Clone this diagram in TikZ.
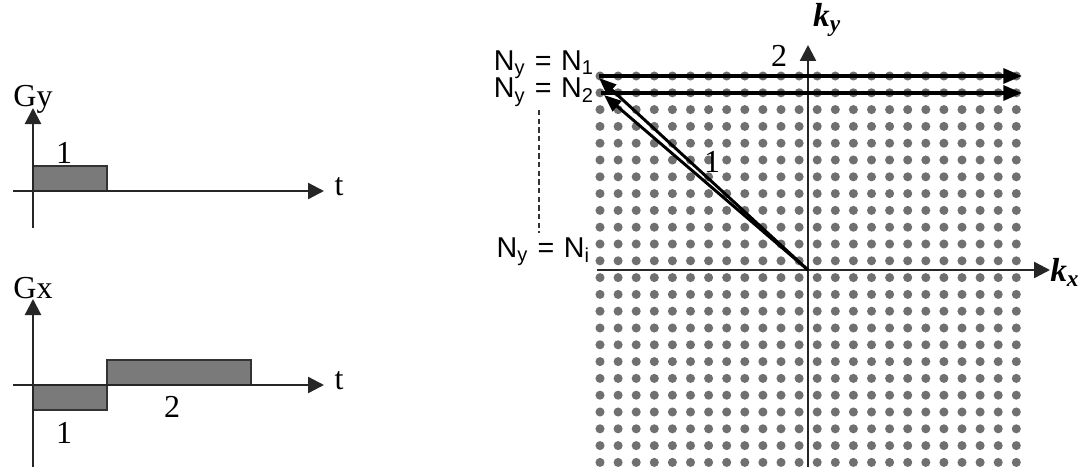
\documentclass[tikz,border=0pt]{standalone}
\usepackage{fontspec}
\setmainfont{Liberation Serif}
\newfontfamily\arialfont{Liberation Sans}
\usetikzlibrary{arrows.meta}
\definecolor{dotgray}{RGB}{112,112,112}
\definecolor{pulsegray}{RGB}{122,122,122}
\begin{document}
\begin{tikzpicture}[x=0.75pt,y=-0.75pt,
  axis/.style={line width=1.8pt, draw=black!85, -{Triangle[length=12pt,width=12pt]}},
  traj/.style={line width=3pt, -{Triangle[length=14pt,width=11pt]}},
  diag/.style={line width=2.2pt, -{Triangle[length=13pt,width=10pt]}},
  pulse/.style={fill=pulsegray, draw=black!80, line width=1.2pt},
  serlab/.style={font=\fontsize{24}{26}\selectfont, inner sep=0pt},
  klab/.style={font=\fontsize{25}{27}\selectfont\bfseries\itshape, inner sep=0pt},
  nlab/.style={font=\arialfont\fontsize{21.5}{24}\selectfont, inner sep=0pt}]
\useasboundingbox (0,0) rectangle (1082,467);

% ---------- Gy plot ----------
\coordinate (gyb) at (33,228);
\coordinate (gyt) at (33,108);
\coordinate (gyl) at (13,191);
\coordinate (gyr) at (324,191);
\draw[pulse] (33,166) rectangle (107,191);
\draw[axis] (gyb) -- (gyt);
\draw[axis] (gyl) -- (gyr);
\node[serlab] (gylab) at (33,99) {Gy};
\node[serlab] (gyt1) at (339,187) {t};
\node[serlab] (gy1) at (64,153) {1};

% ---------- Gx plot ----------
\coordinate (gxb) at (33,467);
\coordinate (gxt) at (33,299);
\coordinate (gxl) at (13,385);
\coordinate (gxr) at (324,385);
\draw[pulse] (33,385) rectangle (107,410);
\draw[pulse] (107,360) rectangle (251,385);
\draw[axis] (gxb) -- (gxt);
\draw[axis] (gxl) -- (gxr);
\node[serlab] (gxlab) at (33,288) {Gx};
\node[serlab] (gxt1) at (339,381) {t};
\node[serlab] (gx1) at (64,433) {1};
\node[serlab] (gx2) at (172,407) {2};

% ---------- k-space grid ----------
\foreach \i in {0,...,23} {
  \foreach \j in {0,...,23} {
    \fill[dotgray] ({600+18.1*\i},{76+16.8*\j}) circle (3.4pt);
  }
}

% axes
\coordinate (kxs) at (597,270);
\coordinate (kxe) at (1050,270);
\coordinate (kys) at (808,467);
\coordinate (kye) at (808,45);
\coordinate (o) at (808,270);
\draw[axis] (kxs) -- (kxe);
\draw[axis] (kys) -- (kye);
\node[klab, anchor=west] (kx) at (1050,272) {k\textsubscript{x}};
\node[klab] (ky) at (827,20) {k\textsubscript{y}};

% trajectories
\coordinate (n1s) at (599,76);
\coordinate (n1e) at (1022,76);
\coordinate (n2s) at (601,93);
\coordinate (n2e) at (1022,93);
\draw[traj] (n1s) -- (n1e);
\draw[traj] (n2s) -- (n2e);
\draw[diag] (o) -- (599,78);
\draw[diag] (o) -- (604,95);
\node[serlab] (lab1) at (712,162) {1};
\node[serlab] (lab2) at (779,56) {2};

% Ny labels
\node[nlab, anchor=base east] (ny1) at (594,70) {N\textsubscript{y}\,\,=\,\,N\textsubscript{1}};
\node[nlab, anchor=base east] (ny2) at (594,98) {N\textsubscript{y}\,\,=\,\,N\textsubscript{2}};
\node[nlab, anchor=base east] (nyi) at (590,257) {N\textsubscript{y}\,\,=\,\,N\textsubscript{i}};
\draw[line width=1.4pt, dash pattern=on 4pt off 2.5pt, draw=black!80] (539,110) -- (539,233);
\end{tikzpicture}
\end{document}
